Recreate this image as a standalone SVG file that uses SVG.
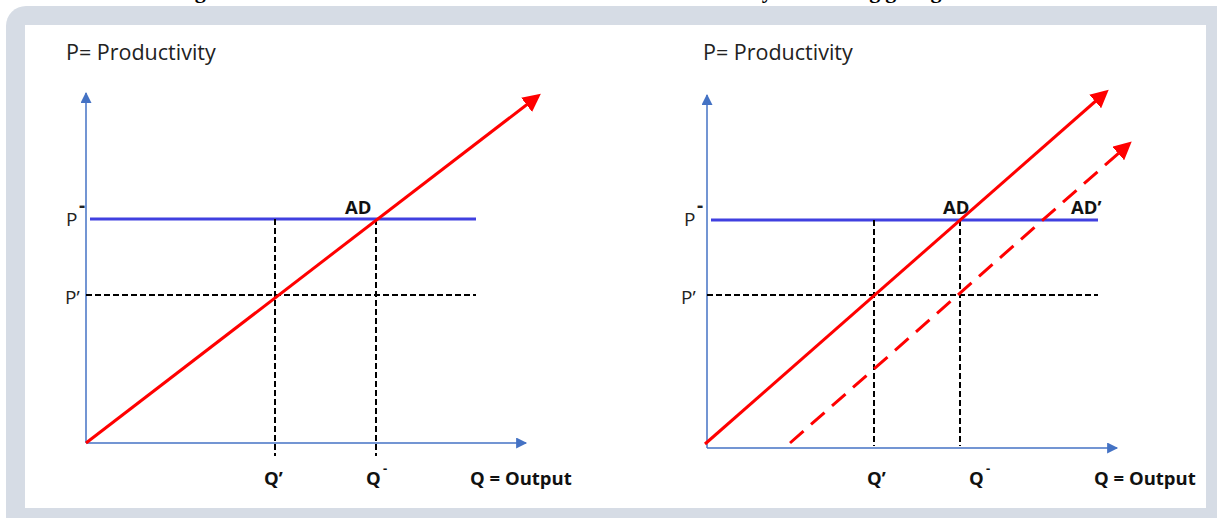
<svg xmlns="http://www.w3.org/2000/svg" width="1217" height="518" viewBox="0 0 1217 518">
<style>
.title{font-family:"Liberation Serif",serif;font-weight:bold;font-size:22px;fill:#000}
.lab{font-family:"Open Sans","Liberation Sans",sans-serif;font-size:19px;fill:#222}
.head{font-family:"Open Sans","Liberation Sans",sans-serif;font-size:21.5px;fill:#222}
.bold{font-family:"Open Sans","Liberation Sans",sans-serif;font-weight:bold;font-size:18.5px;fill:#111}
.axis{stroke:#4472C4;stroke-width:1.5;fill:none}
.pbar{stroke:#4040E0;stroke-width:3;fill:none}
.dash{stroke:#000;stroke-width:2;stroke-dasharray:6 3;fill:none}
.red{stroke:#FF0000;stroke-width:3;fill:none}
.reddash{stroke:#FF0000;stroke-width:3;stroke-dasharray:18 10;fill:none}
</style>
<defs>
<marker id="ab" viewBox="0 0 10 10" refX="9" refY="5" markerWidth="12" markerHeight="11" markerUnits="userSpaceOnUse" orient="auto"><path d="M0,0 L10,5 L0,10 z" fill="#4472C4"/></marker>
<marker id="ar" viewBox="0 0 10 10" refX="8" refY="5" markerWidth="6" markerHeight="6" orient="auto"><path d="M0,0 L10,5 L0,10 z" fill="#FF0000"/></marker>
</defs>
<rect width="1217" height="518" fill="#fff"/>
<text class="title" x="165" y="-2.5" textLength="940" lengthAdjust="spacing">Figure 1: Effect of Growth on Productivity and Aggregate Demand</text>
<rect x="6" y="6" width="1230" height="530" rx="20" fill="#D6DCE5"/>
<rect x="25" y="25" width="1181" height="483" fill="#fff"/>

<g id="connectors">
<!-- left chart -->
<line class="axis" x1="86" y1="443" x2="86" y2="93" marker-end="url(#ab)"/>
<line class="axis" x1="86" y1="443" x2="526" y2="443" marker-end="url(#ab)"/>
<line class="pbar" x1="90" y1="219" x2="476" y2="219"/>
<line class="dash" x1="86" y1="295" x2="476" y2="295"/>
<line class="dash" x1="275" y1="219" x2="275" y2="456"/>
<line class="dash" x1="376" y1="219" x2="376" y2="456"/>
<line class="red" x1="86" y1="443" x2="538" y2="96" marker-end="url(#ar)"/>
<!-- right chart -->
<line class="axis" x1="707" y1="448" x2="707" y2="95" marker-end="url(#ab)"/>
<line class="axis" x1="707" y1="448" x2="1117" y2="448" marker-end="url(#ab)"/>
<line class="pbar" x1="711" y1="220" x2="1098" y2="220"/>
<line class="dash" x1="707" y1="295" x2="1098" y2="295"/>
<line class="dash" x1="874" y1="220" x2="874" y2="446"/>
<line class="dash" x1="960" y1="220" x2="960" y2="446"/>
<line class="red" x1="705" y1="444" x2="1106" y2="92" marker-end="url(#ar)"/>
<line class="reddash" x1="790" y1="443" x2="1129" y2="144" marker-end="url(#ar)"/>
</g>

<g id="left-labels">
<text class="head" x="66" y="60">P= Productivity</text>
<text class="lab" x="66" y="226">P</text>
<text class="lab" x="79" y="212" style="font-weight:bold">-</text>
<text class="lab" x="65" y="304">P’</text>
<text class="bold" x="345" y="214">AD</text>
<text class="bold" x="264" y="485">Q’</text>
<text class="bold" x="366" y="485">Q</text>
<text class="bold" x="383" y="473" style="font-size:13px">-</text>
<text class="bold" x="470" y="485">Q = Output</text>
</g>

<g id="right-labels">
<text class="head" x="703" y="60">P= Productivity</text>
<text class="lab" x="684" y="226">P</text>
<text class="lab" x="697" y="212" style="font-weight:bold">-</text>
<text class="lab" x="681" y="304">P’</text>
<text class="bold" x="943" y="214">AD</text>
<text class="bold" x="1071" y="214">AD’</text>
<text class="bold" x="867" y="485">Q’</text>
<text class="bold" x="969" y="485">Q</text>
<text class="bold" x="986" y="473" style="font-size:13px">-</text>
<text class="bold" x="1094" y="485">Q = Output</text>
</g>
</svg>
